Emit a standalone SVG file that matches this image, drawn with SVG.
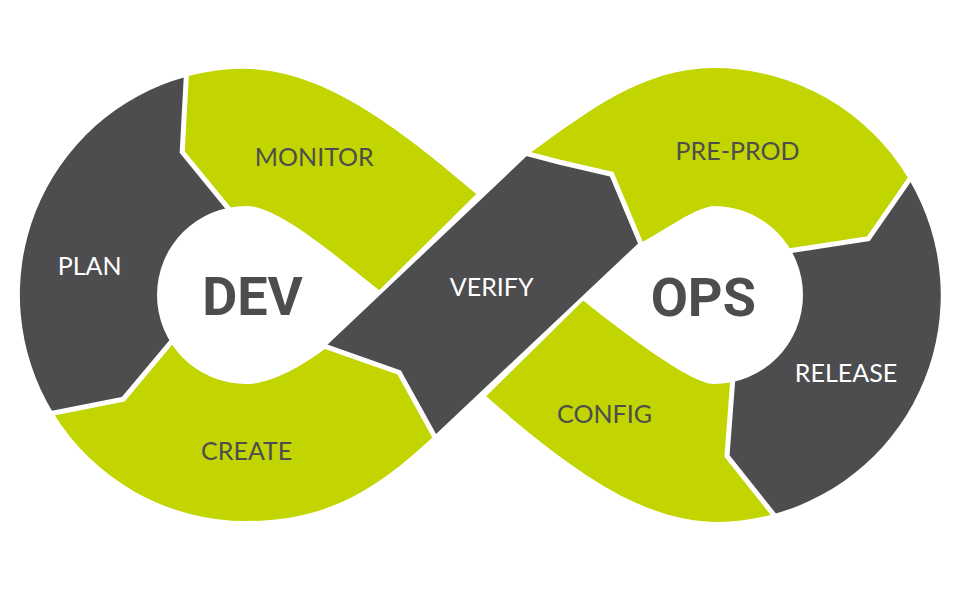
<svg xmlns="http://www.w3.org/2000/svg" width="962" height="590" viewBox="0 0 962 590">
<style>
.g{fill:#c2d500}
.d{fill:#4d4d4f}
.hole{fill:#ffffff}
.sep{fill:none;stroke:#ffffff;stroke-width:5;stroke-linejoin:miter;stroke-miterlimit:10}
.lbl{font-family:Lato,"Open Sans","Liberation Sans",sans-serif;font-size:25px;text-anchor:middle}
.tg{fill:#4d4d4f}
.tw{fill:#ffffff}
.big{font-family:Roboto,"Liberation Sans",sans-serif;font-weight:700;font-size:54px;fill:#4d4d4f;text-anchor:middle}
</style>
<rect width="962" height="590" fill="#ffffff"/>
<g id="plan">
<path class="d" d="M186.3,76.7 A226 226 0 0 0 53.3,413 L123.3,399.2 L170.8,342.5 L205,300 L227,206.7 L182.2,152 Z"/>
<text class="lbl tw" x="89.7" y="274.5">PLAN</text>
</g>
<g id="monitor">
<path class="g" d="M186.3,76.7 C277,52 348,83 476.3,194.1 L350,319.1 L260,262 L227,206.7 L182.2,152 Z"/>
<text class="lbl tg" x="314.3" y="166.2">MONITOR</text>
</g>
<g id="create">
<path class="g" d="M53.3,413 A226 226 0 0 0 246,521 C325,521 374,492.4 434.2,435.8 L399.2,372.5 L325.8,346.7 L260,330 L170.8,342.5 L123.3,399.2 Z"/>
<text class="lbl tg" x="246.7" y="459.5">CREATE</text>
</g>
<g id="preprod">
<path class="g" d="M909.2,179.7 A227 227 0 0 0 714,68 C644,68 589,110.2 528.8,154.1 L560,162.2 L611.7,174.2 L640,241.7 L700,262 L792.5,250.3 L868.3,238.8 Z"/>
<text class="lbl tg" x="737.5" y="159.5">PRE-PROD</text>
</g>
<g id="release">
<path class="d" d="M909.2,179.7 A227 227 0 0 1 773.3,514.2 L727,456 L732.5,382.5 L765,300 L792.5,250.3 L868.3,238.8 Z"/>
<text class="lbl tw" x="846" y="382.2">RELEASE</text>
</g>
<g id="config">
<path class="g" d="M773.3,514.2 C683.3,538.6 612,507 486.2,396.3 L583.1,300.8 L613,271.3 L680,330 L732.5,382.5 L727,456 Z"/>
<text class="lbl tg" x="604.5" y="423.2">CONFIG</text>
</g>
<g id="dev">
<path class="hole" d="M246,206 C280,206 340,260 388,297 L334,342 C305,365 272,384 246,384 A89 89 0 0 1 246,206 Z"/>
<text class="big" x="252.5" y="315">DEV</text>
</g>
<g id="ops">
<path class="hole" d="M714,206 A89 89 0 0 1 714,384 C690,384 620,330 575,294 L630,248 C655,238 693,207 714,206 Z"/>
<text class="big" x="703.3" y="315.5">OPS</text>
</g>
<g id="verify">
<path class="d" d="M528.8,154.1 L560,162.2 L611.7,174.2 L640,241.7 L434.2,435.7 L399.2,372.5 L325.5,346.6 Z"/>
<text class="lbl tw" x="491.7" y="296.2">VERIFY</text>
</g>
<g id="connectors">
<polyline class="sep" points="186.6,70.7 182.2,152 230.8,211.3"/>
<polyline class="sep" points="174.7,337.9 123.3,399.2 47.4,414.2"/>
<polyline class="sep" points="320.1,344.7 399.2,372.5 437.1,441"/>
<polyline class="sep" points="523,152.6 560,162.2 611.7,174.2 642.3,247.2"/>
<polyline class="sep" points="912.6,174.8 868.3,238.8 786.6,251.2"/>
<polyline class="sep" points="733,376.5 727,456 777,518.9"/>
</g>
</svg>
